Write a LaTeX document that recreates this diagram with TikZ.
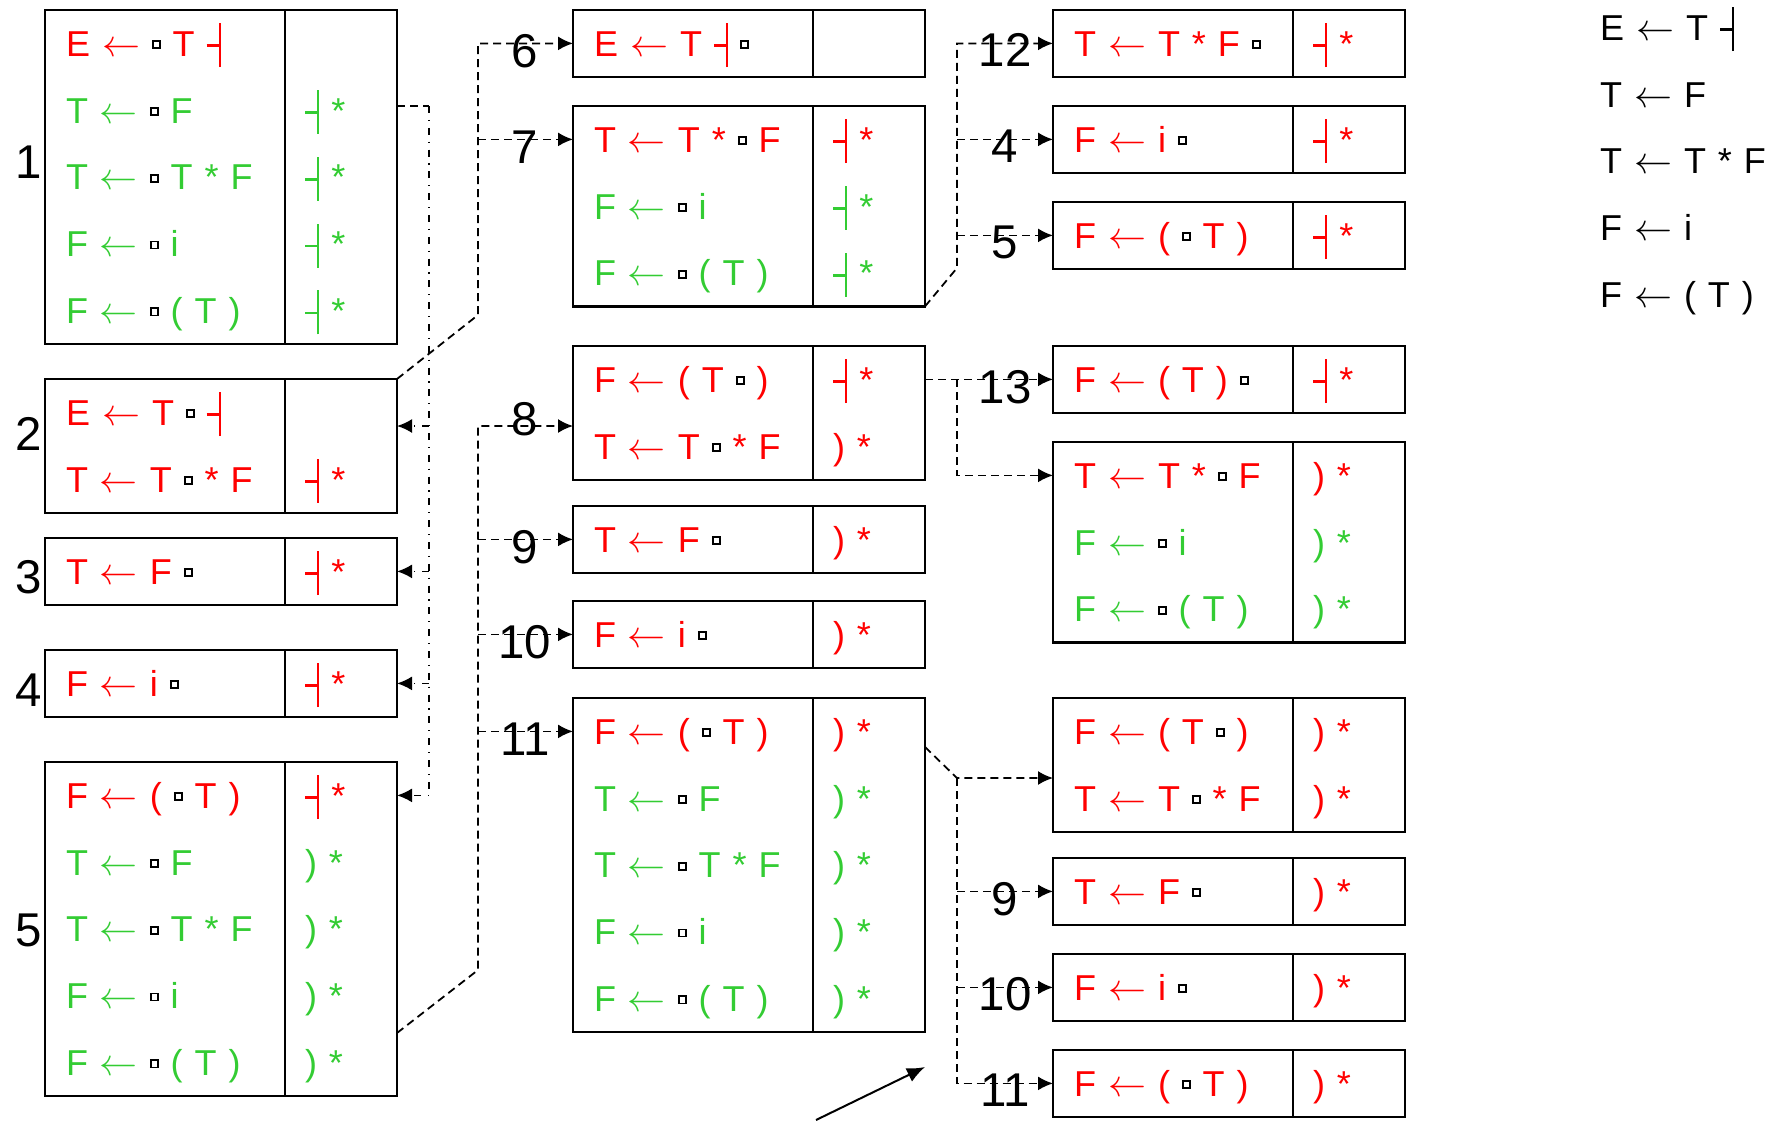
\documentclass[tikz,border=0pt]{standalone}
\usepackage{fix-cm}
\usepackage{fontspec}
\setmainfont{Liberation Sans}
\usetikzlibrary{positioning,arrows.meta}

\definecolor{itemred}{RGB}{255,0,0}
\definecolor{itemgrn}{RGB}{51,204,51}

\DeclareRobustCommand\boxfont{\fontsize{18pt}{33.4pt}\selectfont\setlength\spaceskip{0.26em}}
\newcommand\lar{{\fontsize{19pt}{20pt}\selectfont$\leftarrow$}}
\newcommand\dotsq{\textcolor{black}{\raisebox{0.25em}{\setlength\fboxsep{0pt}\setlength\fboxrule{0.045em}\fbox{\rule{0pt}{0.15em}\hspace{0.15em}}}}}
\newcommand\eot{\rule[0.26em]{0.33em}{0.07em}\rule[-0.3em]{0.07em}{1.22em}}
\newcommand\rw[2]{\textcolor{#1}{\rule[-10.25pt]{0pt}{33.4pt}#2}}
\newcommand\itr[1]{\rw{itemred}{#1}}
\newcommand\itg[1]{\rw{itemgrn}{#1}}
\newcommand\laend{\eot{} *}
\newcommand\lapar{) *}

\begin{document}
\begin{tikzpicture}[x=0.5pt, y=-0.5pt, >={Latex[length=7.5pt,width=7pt]},
    items/.style={rectangle, draw, line width=1.1pt, anchor=north west, outer sep=0pt, inner xsep=10.5pt, inner ysep=0pt, text width=99pt, align=left, font=\boxfont},
    look/.style={items, inner xsep=10pt, text width=36pt},
    nrows/.style={minimum height=#1*33.4pt},
    lbl/.style={inner sep=0pt, font=\fontsize{23.7pt}{28pt}\selectfont},
    dsh/.style={line width=0.9pt, dash pattern=on 4pt off 2.5pt},
    dd/.style={line width=0.9pt, dash pattern=on 3.5pt off 3.4pt on 0.6pt off 3.4pt}]
    \useasboundingbox (0,0) rectangle (1772,1120);

    % first column
    \node [items, nrows=5] (st1) at (45,10) {\itr{E \lar{} \dotsq{} T \eot}\\ \itg{T \lar{} \dotsq{} F}\\ \itg{T \lar{} \dotsq{} T * F}\\ \itg{F \lar{} \dotsq{} i}\\ \itg{F \lar{} \dotsq{} ( T )}};
    \node [look, nrows=5, right=0pt of st1] (la1) {\itg{}\\ \itg{\laend}\\ \itg{\laend}\\ \itg{\laend}\\ \itg{\laend}};
    \node [items, nrows=2] (st2) at (45,379) {\itr{E \lar{} T \dotsq{} \eot}\\ \itr{T \lar{} T \dotsq{} * F}};
    \node [look, nrows=2, right=0pt of st2] (la2) {\itr{}\\ \itr{\laend}};
    \node [items, nrows=1] (st3) at (45,538) {\itr{T \lar{} F \dotsq{}}};
    \node [look, nrows=1, right=0pt of st3] (la3) {\itr{\laend}};
    \node [items, nrows=1] (st4) at (45,650) {\itr{F \lar{} i \dotsq{}}};
    \node [look, nrows=1, right=0pt of st4] (la4) {\itr{\laend}};
    \node [items, nrows=5] (st5) at (45,762) {\itr{F \lar{} ( \dotsq{} T )}\\ \itg{T \lar{} \dotsq{} F}\\ \itg{T \lar{} \dotsq{} T * F}\\ \itg{F \lar{} \dotsq{} i}\\ \itg{F \lar{} \dotsq{} ( T )}};
    \node [look, nrows=5, right=0pt of st5] (la5) {\itr{\laend}\\ \itg{\lapar}\\ \itg{\lapar}\\ \itg{\lapar}\\ \itg{\lapar}};

    % second column
    \node [items, nrows=1] (st6) at (573,10) {\itr{E \lar{} T \eot{} \dotsq{}}};
    \node [look, nrows=1, right=0pt of st6] (la6) {\itr{}};
    \node [items, nrows=3] (st7) at (573,106) {\itr{T \lar{} T * \dotsq{} F}\\ \itg{F \lar{} \dotsq{} i}\\ \itg{F \lar{} \dotsq{} ( T )}};
    \node [look, nrows=3, right=0pt of st7] (la7) {\itr{\laend}\\ \itg{\laend}\\ \itg{\laend}};
    \node [items, nrows=2] (st8) at (573,346) {\itr{F \lar{} ( T \dotsq{} )}\\ \itr{T \lar{} T \dotsq{} * F}};
    \node [look, nrows=2, right=0pt of st8] (la8) {\itr{\laend}\\ \itr{\lapar}};
    \node [items, nrows=1] (st9) at (573,506) {\itr{T \lar{} F \dotsq{}}};
    \node [look, nrows=1, right=0pt of st9] (la9) {\itr{\lapar}};
    \node [items, nrows=1] (st10) at (573,601) {\itr{F \lar{} i \dotsq{}}};
    \node [look, nrows=1, right=0pt of st10] (la10) {\itr{\lapar}};
    \node [items, nrows=5] (st11) at (573,698) {\itr{F \lar{} ( \dotsq{} T )}\\ \itg{T \lar{} \dotsq{} F}\\ \itg{T \lar{} \dotsq{} T * F}\\ \itg{F \lar{} \dotsq{} i}\\ \itg{F \lar{} \dotsq{} ( T )}};
    \node [look, nrows=5, right=0pt of st11] (la11) {\itr{\lapar}\\ \itg{\lapar}\\ \itg{\lapar}\\ \itg{\lapar}\\ \itg{\lapar}};

    % third column
    \node [items, nrows=1] (st12) at (1053,10) {\itr{T \lar{} T * F \dotsq{}}};
    \node [look, nrows=1, right=0pt of st12] (la12) {\itr{\laend}};
    \node [items, nrows=1] (st4b) at (1053,106) {\itr{F \lar{} i \dotsq{}}};
    \node [look, nrows=1, right=0pt of st4b] (la4b) {\itr{\laend}};
    \node [items, nrows=1] (st5b) at (1053,202) {\itr{F \lar{} ( \dotsq{} T )}};
    \node [look, nrows=1, right=0pt of st5b] (la5b) {\itr{\laend}};
    \node [items, nrows=1] (st13) at (1053,346) {\itr{F \lar{} ( T ) \dotsq{}}};
    \node [look, nrows=1, right=0pt of st13] (la13) {\itr{\laend}};
    \node [items, nrows=3] (st7r) at (1053,442) {\itr{T \lar{} T * \dotsq{} F}\\ \itg{F \lar{} \dotsq{} i}\\ \itg{F \lar{} \dotsq{} ( T )}};
    \node [look, nrows=3, right=0pt of st7r] (la7r) {\itr{\lapar}\\ \itg{\lapar}\\ \itg{\lapar}};
    \node [items, nrows=2] (st8r) at (1053,698) {\itr{F \lar{} ( T \dotsq{} )}\\ \itr{T \lar{} T \dotsq{} * F}};
    \node [look, nrows=2, right=0pt of st8r] (la8r) {\itr{\lapar}\\ \itr{\lapar}};
    \node [items, nrows=1] (st9b) at (1053,858) {\itr{T \lar{} F \dotsq{}}};
    \node [look, nrows=1, right=0pt of st9b] (la9b) {\itr{\lapar}};
    \node [items, nrows=1] (st10b) at (1053,954) {\itr{F \lar{} i \dotsq{}}};
    \node [look, nrows=1, right=0pt of st10b] (la10b) {\itr{\lapar}};
    \node [items, nrows=1] (st11b) at (1053,1050) {\itr{F \lar{} ( \dotsq{} T )}};
    \node [look, nrows=1, right=0pt of st11b] (la11b) {\itr{\lapar}};

    % grammar
    \node [items, draw=none, nrows=5, anchor=west, inner xsep=0pt, text width=90pt] (gram) at (1600,161) {\rw{black}{E \lar{} T \eot}\\ \rw{black}{T \lar{} F}\\ \rw{black}{T \lar{} T * F}\\ \rw{black}{F \lar{} i}\\ \rw{black}{F \lar{} ( T )}};

    % from 1
    \coordinate (ta) at (429,106);
    \coordinate (a2) at ([yshift=-23.5pt]la2.north east);
    \draw [dsh] (la1.east |- ta) -- (ta);
    \draw [dd, ->] (ta) |- ([yshift=-16.7pt]la5.north east);
    \draw [dd, ->] (ta |- a2) -- (a2);
    \draw [dd, ->] (ta |- la3.east) -- (la3.east);
    \draw [dd, ->] (ta |- la4.east) -- (la4.east);

    % from 2
    \coordinate (tb) at (478,315);
    \coordinate (b7) at ([yshift=-16.7pt]st7.north west);
    \draw [dsh, ->] (la2.north east) -- (tb) |- (st6.west);
    \draw [dsh, ->] (tb |- b7) -- (b7);

    % from 5
    \coordinate (tc) at (478,970);
    \coordinate (c8) at ([yshift=-40pt]st8.north west);
    \coordinate (c11) at ([yshift=-16.7pt]st11.north west);
    \draw [dsh, ->] ([yshift=31.5pt]la5.south east) -- (tc) |- (c8);
    \draw [dsh, ->] (tc |- st9.west) -- (st9.west);
    \draw [dsh, ->] (tc |- st10.west) -- (st10.west);
    \draw [dsh, ->] (tc |- c11) -- (c11);

    % from 7
    \coordinate (td) at (957,268);
    \draw [dsh, ->] (la7.south east) -- (td) |- (st12.west);
    \draw [dsh, ->] (td |- st4b.west) -- (st4b.west);
    \draw [dsh, ->] (td |- st5b.west) -- (st5b.west);

    % from 8
    \coordinate (e7r) at ([yshift=-16.7pt]st7r.north west);
    \draw [dsh, ->] (la8.east |- st13.west) -- (st13.west);
    \draw [dsh, ->] (td |- st13.west) |- (e7r);

    % from 11
    \coordinate (tf) at (957,778);
    \draw [dsh, ->] ([yshift=-24.5pt]la11.north east) -- (tf) -- (tf -| st8r.west);
    \draw [dsh, ->] (tf) |- (st11b.west);
    \draw [dsh, ->] (tf |- st9b.west) -- (st9b.west);
    \draw [dsh, ->] (tf |- st10b.west) -- (st10b.west);

    % pointer
    \coordinate (pa) at (816,1120);
    \coordinate (pb) at (925,1067);
    \draw [line width=1pt, -{Latex[length=9pt,width=7.5pt]}] (pa) -- (pb);

    % state numbers
    \node [lbl, anchor=east] (n1) at (42,162) {1};
    \node [lbl, anchor=east] (n2) at (42,434) {2};
    \node [lbl, anchor=east] (n3) at (42,577) {3};
    \node [lbl, anchor=east] (n4) at (42,690) {4};
    \node [lbl, anchor=east] (n5) at (42,930) {5};
    \node [lbl] (n6) at (525,51) {6};
    \node [lbl] (n7) at (525,147) {7};
    \node [lbl] (n8) at (525,419) {8};
    \node [lbl] (n9) at (525,547) {9};
    \node [lbl] (n10) at (525,642) {10};
    \node [lbl] (n11) at (525,739) {11};
    \node [lbl] (n12) at (1005,50) {12};
    \node [lbl] (n4b) at (1005,146) {4};
    \node [lbl] (n5b) at (1005,242) {5};
    \node [lbl] (n13) at (1005,387) {13};
    \node [lbl] (n9b) at (1005,899) {9};
    \node [lbl] (n10b) at (1005,994) {10};
    \node [lbl] (n11b) at (1005,1090) {11};
\end{tikzpicture}
\end{document}
